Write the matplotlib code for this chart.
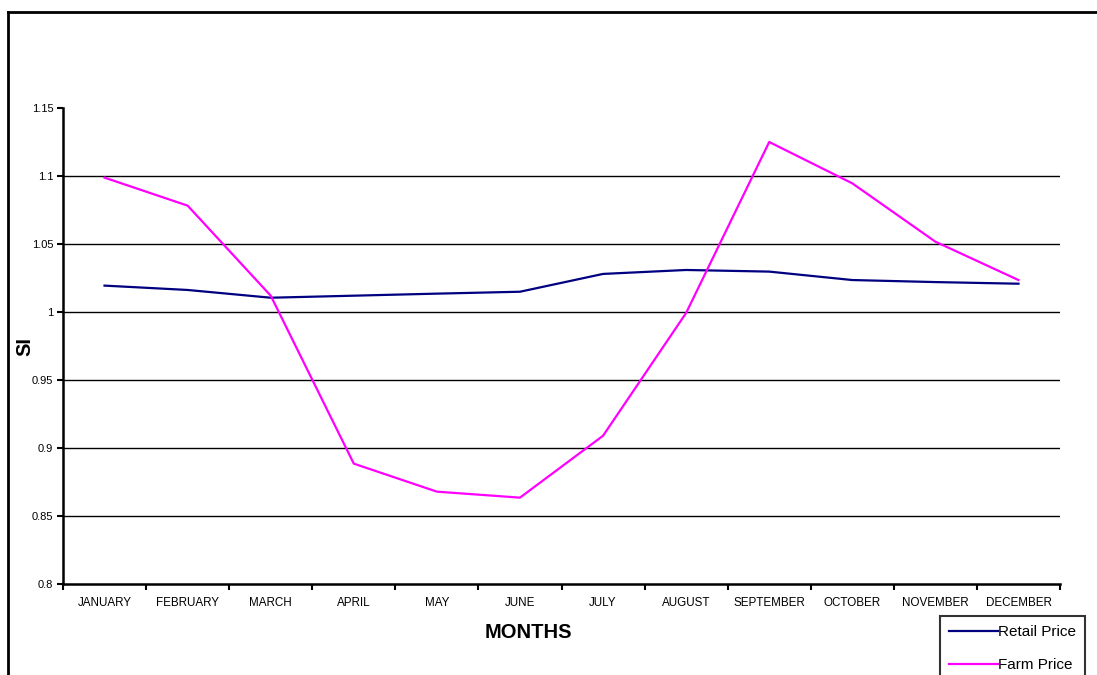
import matplotlib.pyplot as plt
from matplotlib.lines import Line2D
import numpy as np

plt.rcParams['font.family'] = ['Liberation Sans', 'DejaVu Sans']

# Data
months = ["JANUARY", "FEBRUARY", "MARCH", "APRIL", "MAY", "JUNE",
          "JULY", "AUGUST", "SEPTEMBER", "OCTOBER", "NOVEMBER", "DECEMBER"]
retail_price = [1.0194, 1.0162, 1.0105, 1.0120, 1.0135, 1.0149,
                1.0280, 1.0309, 1.0297, 1.0235, 1.0220, 1.0208]
farm_price = [1.0988, 1.0782, 1.0120, 0.8885, 0.8679, 0.8635,
              0.9090, 0.9993, 1.1250, 1.0946, 1.0517, 1.0235]
y_ticks = [0.8, 0.85, 0.9, 0.95, 1.0, 1.05, 1.1, 1.15]
y_labels = ["0.8", "0.85", "0.9", "0.95", "1", "1.05", "1.1", "1.15"]

W, H = 1097, 675
fig = plt.figure(figsize=(W / 100, H / 100), dpi=100)
ax = fig.add_axes([63 / W, 1 - 584 / H, (1060 - 63) / W, (584 - 108) / H])

x = np.arange(len(months))
ax.plot(x, retail_price, color="#000080", lw=1.6, label="Retail Price")
ax.plot(x, farm_price, color="#FF00FF", lw=1.6, label="Farm Price")

ax.set_xlim(-0.5, len(months) - 0.5)
ax.set_ylim(0.8, 1.15)

# category labels centred, tick marks on the boundaries
ax.set_xticks(x)
ax.set_xticklabels(months, fontsize=8.4)
ax.tick_params(axis="x", which="major", length=0, pad=9)
ax.set_xticks(np.arange(-0.5, len(months)), minor=True)
ax.tick_params(axis="x", which="minor", length=4, width=1.5, direction="out")

ax.set_yticks(y_ticks)
ax.set_yticklabels(y_labels, fontsize=8)
ax.tick_params(axis="y", length=4, width=1.5, direction="out", pad=3)

ax.grid(axis="y", color="black", lw=1)
ax.get_ygridlines()[-1].set_visible(False)
ax.get_ygridlines()[0].set_visible(False)

for s in ["top", "right"]:
    ax.spines[s].set_visible(False)
for s in ["left", "bottom"]:
    ax.spines[s].set_linewidth(1.8)

fig.text(528 / W, 1 - 632 / H, "MONTHS", fontsize=14.5, fontweight="bold",
         ha="center", va="center")
fig.text(25 / W, 1 - 346 / H, "SI", fontsize=14.5, fontweight="bold",
         ha="center", va="center", rotation=90)

# outer chart frame (cut off on the right and bottom)
fig.add_artist(Line2D([8 / W, 8 / W], [0, 1 - 12 / H], color="black", lw=2))
fig.add_artist(Line2D([8 / W, 1.0], [1 - 12 / H, 1 - 12 / H], color="black", lw=2))

leg = fig.legend(loc="upper left", bbox_to_anchor=(940 / W, 1 - 616 / H),
                 fontsize=11, frameon=True, fancybox=False, edgecolor="black",
                 handlelength=3.2, handletextpad=0.0, labelspacing=1.25,
                 borderpad=0.6, borderaxespad=0)
leg.get_frame().set_linewidth(1.5)

fig.savefig("out.png", dpi=100)
